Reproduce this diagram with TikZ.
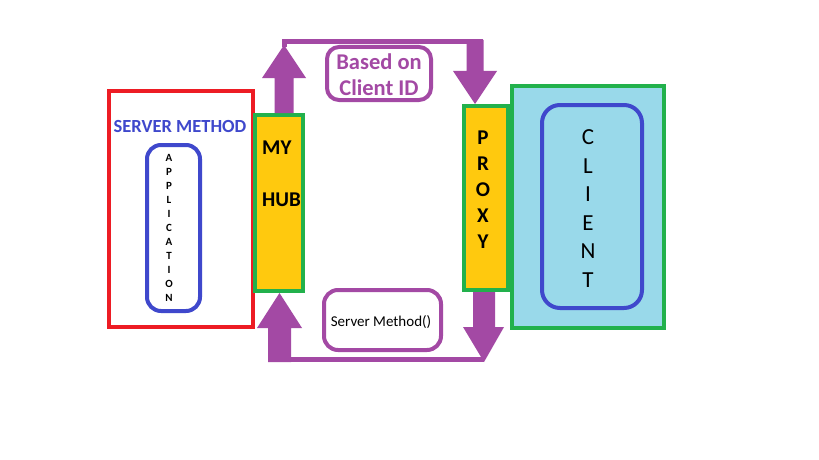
\documentclass[tikz,border=0pt]{standalone}
\usepackage{fontspec}
\setmainfont{Carlito}
\usetikzlibrary{calc}
\definecolor{pred}{HTML}{ED1C24}
\definecolor{pgreen}{HTML}{22B14C}
\definecolor{pyellow}{HTML}{FFC90E}
\definecolor{plblue}{HTML}{99D9EA}
\definecolor{pblue}{HTML}{3F48CC}
\definecolor{ppurple}{HTML}{A349A4}
\tikzset{
  box/.style={draw, rectangle, line width=4pt, inner sep=0pt},
  rbox/.style={draw, rectangle, line width=4pt, inner sep=0pt},
  fatarrow/.style={fill=ppurple},
  thinlink/.style={draw=ppurple, line width=5pt, miter limit=10},
  txt/.style={inner sep=0pt},
}
\begin{document}
\begin{tikzpicture}[x=1pt,y=-1pt]
\useasboundingbox (0,0) rectangle (819,460);
\fill[white] (0,0) rectangle (819,460);

% boxes
\node[box, draw=pred, minimum width=144pt, minimum height=236pt] (server) at (181,209) {};
\node[box, draw=pgreen, fill=pyellow, minimum width=48pt, minimum height=176pt] (hub) at (279,203) {};
\node[box, draw=pgreen, fill=plblue, minimum width=152pt, minimum height=242pt] (client) at (588,207) {};
\node[box, draw=pgreen, fill=pyellow, minimum width=44pt, minimum height=184pt] (proxy) at (486,198) {};
\node[rbox, draw=pblue, rounded corners=14pt, minimum width=53pt, minimum height=166pt] (app) at (173.5,228) {};
\node[rbox, draw=pblue, rounded corners=18pt, minimum width=100pt, minimum height=203pt] (clientin) at (592,206.5) {};
\node[rbox, draw=ppurple, rounded corners=12pt, minimum width=104pt, minimum height=53pt] (based) at (379,73.5) {};
\node[rbox, draw=ppurple, rounded corners=14pt, minimum width=117pt, minimum height=60pt] (smeth) at (382.5,320) {};

% connectors: hub -> proxy (top)
\coordinate (hubtop) at ([xshift=5pt]hub.north);
\coordinate (proxytop) at ([xshift=-11pt]proxy.north);
\fill[fatarrow] (hubtop) ++(-9.5,0) -- ++(0,-35) -- ++(-12.5,0) -- ++(22,-33) -- ++(22,33) -- ++(-12.5,0) -- ++(0,35) -- cycle;
\draw[thinlink] ($(hubtop)+(0,-66)$) -- ($(hubtop)+(0,-71)$) -| ($(proxytop)+(5,-60)$);
\fill[fatarrow] (proxytop) ++(-8.5,-33) -- ++(0,-31) -- ++(17,0) -- ++(0,31) -- ++(13.5,0) -- (proxytop) -- ($(proxytop)+(-22,-33)$) -- cycle;

% connectors: proxy -> hub (bottom)
\coordinate (proxybot) at ([xshift=-2pt]proxy.south);
\coordinate (hubbot) at ([xshift=0.5pt]hub.south);
\coordinate (tipbr) at ($(proxybot)+(0,70)$);
\fill[fatarrow] (proxybot) ++(-11,0) -- ++(0,35) -- ++(-10,0) -- (tipbr) -- ++(20,-35) -- ++(-9,0) -- ++(0,-35) -- cycle;
\draw[thinlink] ($(tipbr)+(0,-2.5)$) -- ($(hubbot)+(-9,66.5)$);
\fill[fatarrow] (hubbot) ++(0,69) ++(-11.5,0) -- ++(0,-34) -- ++(-11,0) -- (hubbot) -- ($(hubbot)+(22.5,35)$) -- ++(-11,0) -- ++(0,34) -- cycle;

% texts
\node[txt, font=\bfseries\fontsize{18.5}{20}\selectfont, text=pblue] (servertitle) at (180,126) {SERVER METHOD};
\node[txt, font=\bfseries\fontsize{11}{14}\selectfont, align=center] (apptext) at (169,228) {A\\P\\P\\L\\I\\C\\A\\T\\I\\O\\N};
\node[txt, font=\bfseries\fontsize{21}{24}\selectfont, anchor=west] (hubtext1) at (262,148) {MY};
\node[txt, font=\bfseries\fontsize{21}{24}\selectfont, anchor=west] (hubtext2) at (262,200) {HUB};
\node[txt, font=\bfseries\fontsize{21}{26}\selectfont, align=center] (proxytext) at (483,190) {P\\R\\O\\X\\Y};
\node[txt, font=\fontsize{23}{28.6}\selectfont, align=center] (clienttext) at (588,208.5) {C\\L\\I\\E\\N\\T};
\node[txt, font=\bfseries\fontsize{22.5}{26}\selectfont, align=center, text=ppurple] (basedtext) at (379,75) {Based on\\Client ID};
\node[txt, font=\fontsize{15}{18}\selectfont] (smethtext) at (381,322.5) {Server Method()};
\end{tikzpicture}
\end{document}
